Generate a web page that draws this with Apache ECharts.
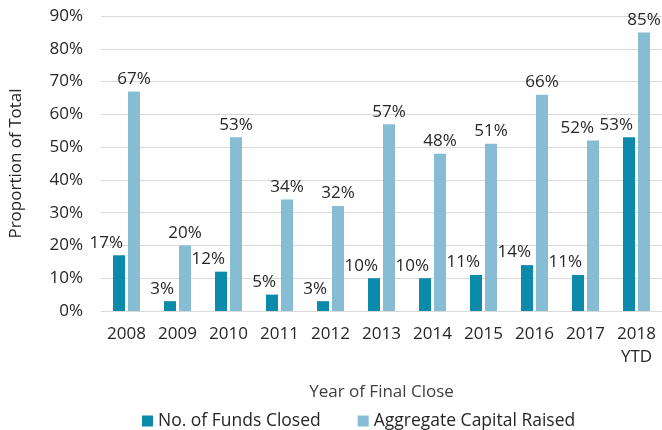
<!DOCTYPE html>
<html>
<head>
<meta charset="utf-8">
<script src="https://cdn.jsdelivr.net/npm/echarts@6/dist/echarts.min.js"></script>
<style>
  html, body { margin: 0; padding: 0; background: #fff; }
  #chart { width: 662px; height: 430px; }
</style>
</head>
<body>
<div id="chart"></div>
<script>
const years = ["2008", "2009", "2010", "2011", "2012", "2013", "2014", "2015", "2016", "2017", "2018\nYTD"];
const fundsClosed = [17, 3, 12, 5, 3, 10, 10, 11, 14, 11, 53];
const capitalRaised = [67, 20, 53, 34, 32, 57, 48, 51, 66, 52, 85];

const chart = echarts.init(document.getElementById("chart"));
const textColor = "#262626";
const font = "'Open Sans', sans-serif";

// 2017's light label is pushed left in the original so it clears the 2018 dark label
const capitalData = capitalRaised.map((v, i) =>
  i === 9 ? { value: v, label: { align: "right", offset: [1, 0] } } : v
);

const option = {
  animation: false,
  textStyle: { fontFamily: font, color: textColor },
  grid: { left: 97, right: 0, top: 16, bottom: 119 },
  legend: {
    bottom: 0,
    left: 137,
    padding: [0, 5, 0, 5],
    itemWidth: 11,
    itemHeight: 11,
    itemGap: 37,
    icon: "rect",
    textStyle: { fontSize: 17.5, fontFamily: font, color: textColor },
    data: ["No. of Funds Closed", "Aggregate Capital Raised"],
  },
  xAxis: {
    type: "category",
    data: years,
    name: "Year of Final Close",
    nameLocation: "middle",
    nameGap: 73,
    nameTextStyle: { fontSize: 17, color: "#404040", fontFamily: font },
    axisLine: { show: true, lineStyle: { color: "#d9d9d9", width: 1 } },
    axisTick: { show: false },
    axisLabel: { fontSize: 17, color: textColor, margin: 12, lineHeight: 23, interval: 0 },
  },
  yAxis: {
    type: "value",
    min: 0,
    max: 90,
    interval: 10,
    name: "Proportion of Total",
    nameLocation: "middle",
    nameGap: 76,
    nameTextStyle: { fontSize: 17, color: textColor, fontFamily: font },
    axisLine: { show: false },
    axisTick: { show: false },
    splitLine: { lineStyle: { color: "#d9d9d9", width: 1 } },
    axisLabel: { fontSize: 17, color: textColor, margin: 18, formatter: "{value}%" },
  },
  series: [
    {
      name: "No. of Funds Closed",
      type: "bar",
      data: fundsClosed,
      barWidth: 12,
      barGap: "25%",
      itemStyle: { color: "#0b8aab" },
      label: {
        show: true,
        position: "top",
        distance: 4,
        align: "right",
        offset: [4, 0],
        formatter: "{c}%",
        fontSize: 17,
        color: textColor,
        fontFamily: font,
      },
    },
    {
      name: "Aggregate Capital Raised",
      type: "bar",
      data: capitalData,
      barWidth: 12,
      itemStyle: { color: "#86bdd4" },
      label: {
        show: true,
        position: "top",
        distance: 4,
        formatter: "{c}%",
        fontSize: 17,
        color: textColor,
        fontFamily: font,
      },
    },
  ],
};

chart.setOption(option);
</script>
</body>
</html>
